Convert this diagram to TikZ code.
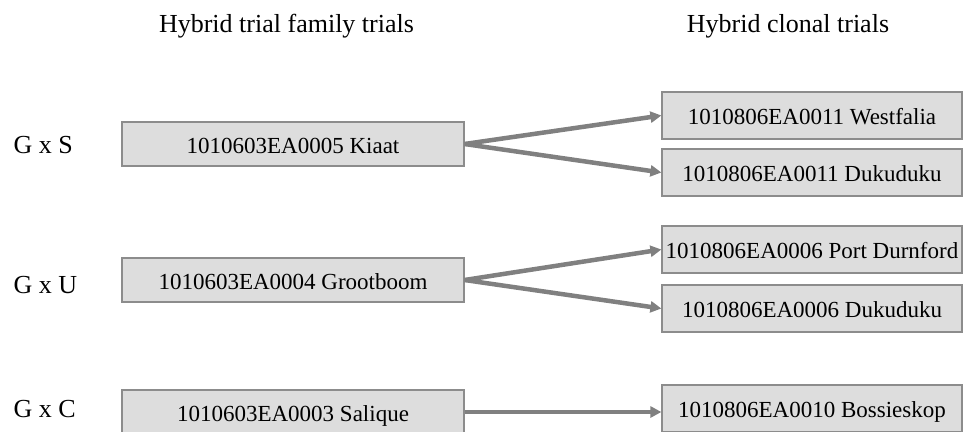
\documentclass[tikz,border=0pt]{standalone}
\usepackage{fontspec}
\setmainfont{Liberation Serif}
\usetikzlibrary{arrows.meta}
\definecolor{boxfill}{RGB}{221,221,221}
\definecolor{boxline}{RGB}{140,140,140}
\definecolor{arrowgray}{RGB}{128,128,128}
\begin{document}
\begin{tikzpicture}[x=1pt,y=-1pt,
  trialbox/.style={draw=boxline, fill=boxfill, line width=1.2pt, inner sep=0pt,
    text height=18pt, text depth=0pt, font=\fontsize{23}{27}\selectfont},
  familybox/.style={trialbox, minimum width=342pt, minimum height=44pt},
  clonalbox/.style={trialbox, minimum width=300pt, minimum height=47pt},
  heading/.style={anchor=base, font=\fontsize{26}{30}\selectfont},
  cross/.style={anchor=base west, font=\fontsize{26}{30}\selectfont},
  link/.style={draw=arrowgray, line width=4.5pt,
    -{Triangle[length=11pt,width=11pt]}}]
\useasboundingbox (0,0) rectangle (963,431);

% column headings
\node[heading] (hfam) at (286.5,32) {Hybrid trial family trials};
\node[heading] (hclo) at (788,32) {Hybrid clonal trials};

% crosses
\node[cross] (gs) at (10,153) {G x S};
\node[cross] (gu) at (10,293) {G x U};
\node[cross] (gc) at (10,417) {G x C};

% family trials
\node[familybox] (kiaat) at (293,144) {1010603EA0005 Kiaat};
\node[familybox] (groot) at (293,280) {1010603EA0004 Grootboom};
\node[familybox] (sal) at (293,412) {1010603EA0003 Salique};

% clonal trials
\node[clonalbox] (west) at (812,115.5) {1010806EA0011 Westfalia};
\node[clonalbox] (duk1) at (812,172.5) {1010806EA0011 Dukuduku};
\node[clonalbox] (port) at (812,249.5) {1010806EA0006 Port Durnford};
\node[clonalbox] (duk2) at (812,308.5) {1010806EA0006 Dukuduku};
\node[clonalbox] (boss) at (812,408.5) {1010806EA0010 Bossieskop};

% links
\draw[link] (kiaat.east) -- (west.west);
\draw[link] (kiaat.east) -- (duk1.west);
\draw[link] (groot.east) -- (port.west);
\draw[link] (groot.east) -- (duk2.west);
\draw[link] (sal.east) -- (sal.east -| boss.west);
\end{tikzpicture}
\end{document}
